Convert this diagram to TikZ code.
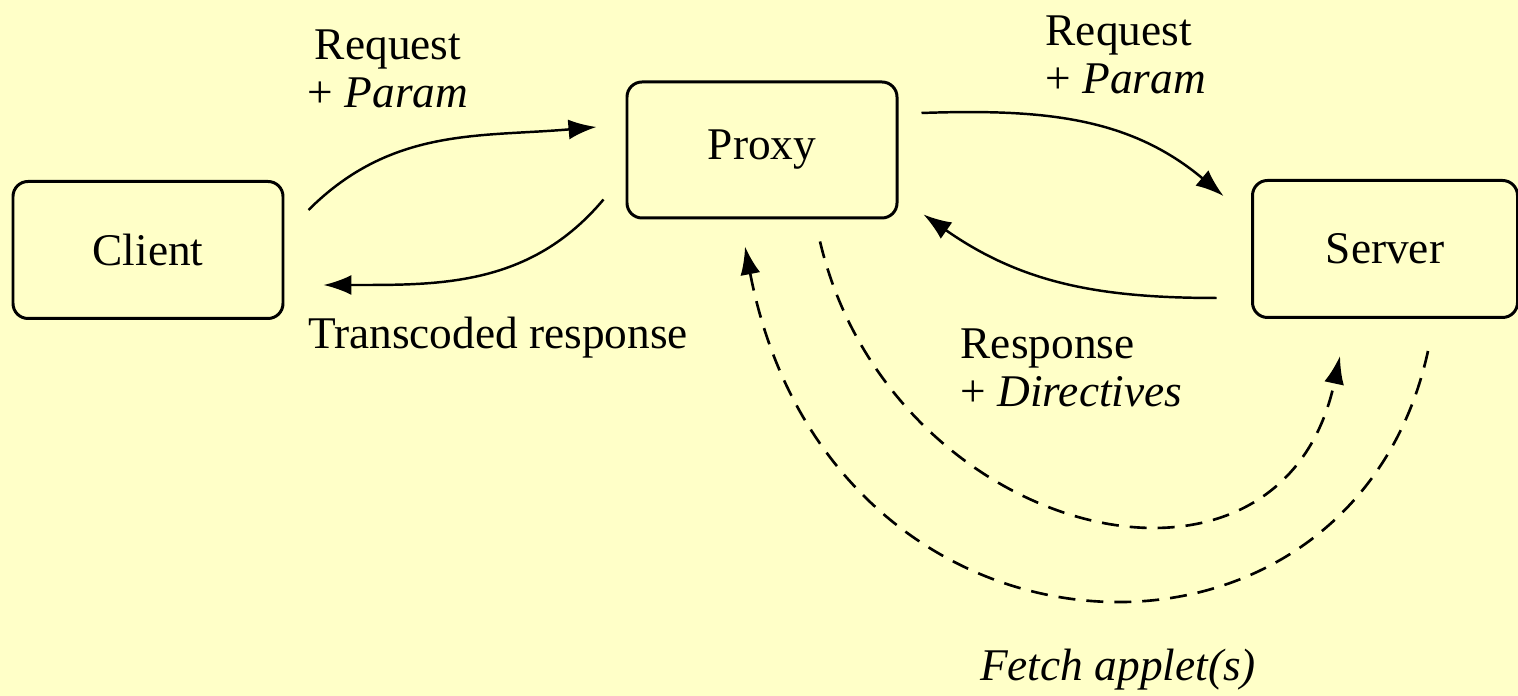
\documentclass[tikz,border=0pt]{standalone}
\usepackage{fontspec}
\setmainfont{Liberation Serif}
\usetikzlibrary{calc}
\usetikzlibrary{arrows.meta}
\tikzset{>={Latex[width=2mm,length=2.8mm]}}
\definecolor{paleyellow}{RGB}{255,255,200}
\tikzset{
  box/.style={draw=black, line width=0.85pt, rounded corners=1.5mm, minimum width=2.7cm, minimum height=1.37cm, inner sep=0pt},
  lbl/.style={inner sep=0pt},
  flow/.style={->, line width=0.7pt},
  fetch/.style={->, line width=0.75pt, dash pattern=on 1.7mm off 1.1mm}
}

\begin{document}
\begin{tikzpicture}[font=\fontsize{12.9}{13.6}\selectfont]
    \fill[paleyellow, use as bounding box] (0,0) rectangle (15.18,6.96);
    \node[box] (Client) at (1.48,4.46) {Client};
    \node[box, minimum height=1.36cm] (Proxy) at (7.62,5.46) {\raisebox{-0.6mm}{Proxy}};
    \node[box, minimum width=2.65cm] (Server) at (13.85,4.47) {Server};
    \node[lbl, align=center] (ReqL) at (3.88,6.27) {Request\\+ \textit{Param}};
    \node[lbl, align=left, anchor=west] (ReqR) at (10.45,6.41) {Request\\+ \textit{Param}};
    \node[lbl] (Trans) at (4.98,3.58) {Transcoded response};
    \node[lbl, align=left, anchor=west] (Resp) at (9.60,3.28) {Response\\+ \textit{Directives}};
    \node[lbl] (Fetch) at (11.18,0.26) {\textit{Fetch applet(s)}};
    % requests and responses
    \draw[flow] ($(Client.north east)+(0.24,-0.30)$) to[out=45, in=185] ($(Proxy.west)+(-0.29,0.23)$);
    \draw[flow] ($(Proxy.south west)+(-0.22,0.20)$) to[out=230, in=0] ($(Client.east)+(0.39,-0.35)$);
    \draw[flow] ($(Proxy.east)+(0.23,0.37)$) to[out=2, in=140] ($(Server.north west)+(-0.275,-0.17)$);
    \draw[flow] ($(Server.south west)+(-0.345,0.21)$) to[out=180, in=-35] ($(Proxy.south east)+(0.25,0.05)$);
    % applet fetch
    \draw[fetch] ($(Proxy.south)+(0.58,-0.22)$) .. controls +(0.7,-2.96) and +(-0.6,-2.81) .. ($(Server.south)+(-0.45,-0.37)$);
    \draw[fetch] ($(Server.south)+(0.43,-0.32)$) .. controls +(-0.78,-3.56) and +(0.85,-4.41) .. ($(Proxy.south)+(-0.17,-0.27)$);
\end{tikzpicture}
\end{document}
